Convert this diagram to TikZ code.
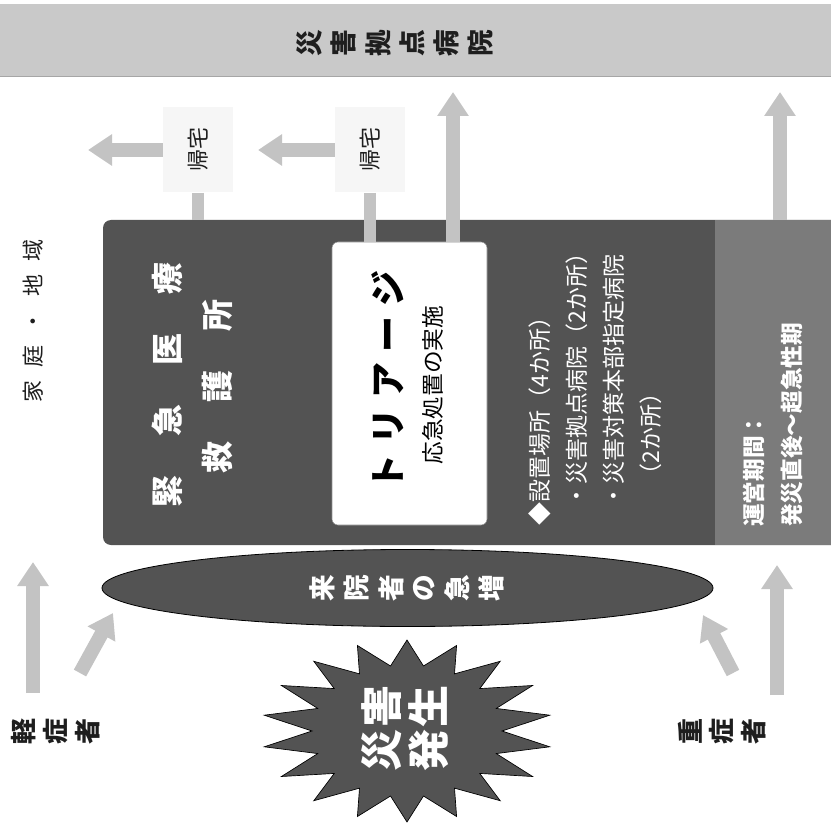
\documentclass[tikz,border=0pt]{standalone}
\usepackage{fontspec}
\setmainfont{Noto Sans CJK JP}
\usepackage{graphicx}
\usetikzlibrary{arrows.meta,shapes.geometric}
\newdimen\pxu \pxu=0.75pt
\newlength\lsg
\def\lsloop#1{\ifx#1\relax\else#1\hskip\lsg\expandafter\lsloop\fi}
\def\rsloop#1{\ifx#1\relax\else\rotatebox{90}{#1}\hskip\lsg\expandafter\rsloop\fi}
\newcommand\spaced[2]{\setlength\lsg{#1}\lsloop#2\relax\unskip}
\newcommand\rspaced[2]{\setlength\lsg{#1}\rsloop#2\relax\unskip}
\definecolor{bandc}{HTML}{C9C9C9}
\definecolor{dk}{HTML}{535353}
\definecolor{midc}{HTML}{7B7B7B}
\definecolor{arr}{HTML}{C3C3C3}
\definecolor{ink}{HTML}{1E1E1E}
\definecolor{pale}{HTML}{F6F6F6}
\begin{document}
\begin{tikzpicture}[x=0.75pt,y=-0.75pt,
  bigarrow/.style={draw=arr, line width=10.5pt, -{Triangle[width=22.5pt,length=18pt]}},
  stub/.style={draw=arr, line width=9pt},
  kbox/.style={rotate=90, fill=pale, minimum width=85\pxu, minimum height=70\pxu, inner sep=0,
     font=\fontsize{16.5pt}{20pt}\selectfont, text=ink},
  rtext/.style={rotate=90, inner sep=0},
  burst/.style={rtext, text=white, font=\bfseries\fontsize{31.5pt}{36pt}\selectfont}
]
\useasboundingbox (0,0) rectangle (831,823);
\fill[white] (0,0) rectangle (831,823);

% top band
\node[fill=bandc, minimum width=831\pxu, minimum height=72\pxu, inner sep=0] (hosp) at (415.5,40) {};
\draw[black!35, line width=1pt] (hosp.south west) -- (hosp.south east);
\node[inner sep=0, text=ink, font=\bfseries\fontsize{20pt}{24pt}\selectfont] (hosptext) at (395,43) {\rspaced{6.75pt}{災害拠点病院}};

% main dark box
\fill[dk, rounded corners=8\pxu] (831,220) -- (103,220) -- (103,545) -- (831,545);
\fill[midc] (715,220) rectangle (831,545);
\coordinate (boxtopL) at (198,220);
\coordinate (boxtopR) at (780,220);

% triage box
\node[fill=white, draw=black!45, rounded corners=6\pxu, minimum width=155\pxu, minimum height=283\pxu, inner sep=0] (triage) at (409.5,383.5) {};
\node[rtext, text=black, font=\bfseries\fontsize{27pt}{30pt}\selectfont] (tri) at (388,380) {\spaced{7.5pt}{トリアージ}};
\node[rtext, text=black, font=\fontsize{17pt}{20pt}\selectfont] (tri2) at (433,385) {応急処置の実施};

% title of the box
\node[rtext, text=white, font=\bfseries\fontsize{24pt}{28pt}\selectfont] (kin1) at (167,384.5) {\spaced{29.25pt}{緊急医療}};
\node[rtext, text=white, font=\bfseries\fontsize{24pt}{28pt}\selectfont] (kin2) at (217,386.5) {\spaced{29.25pt}{救護所}};

% site list
\node[rotate=90, anchor=north west, align=left, text=white, inner sep=0,
  font=\fontsize{17.25pt}{27.75pt}\selectfont] (site) at (528,526)
  {◆設置場所（4か所）\\\hspace*{0.8em}・災害拠点病院（2か所）\\\hspace*{0.8em}・災害対策本部指定病院\\\hspace*{1.7em}（2か所）};

% period
\node[rotate=90, anchor=north west, align=left, text=white, inner sep=0,
  font=\bfseries\fontsize{17pt}{28.5pt}\selectfont] (period) at (743,527)
  {運営期間：\\発災直後～超急性期};

% go-home boxes
\node[kbox] (k1) at (198,150) {帰宅};
\node[kbox] (k2) at (370,150) {帰宅};
\coordinate (k1tip) at (88,150);
\coordinate (k2tip) at (258,150);
\draw[bigarrow] (k1.north) -- (k1tip);
\draw[bigarrow] (k2.north) -- (k2tip);
\draw[stub] (k1.west) -- (boxtopL);
\draw[stub] (k2.west) -- (k2.west |- triage.north);

% arrows to hospitals
\coordinate (trout) at (453,242);
\coordinate (tip1) at (453,92);
\coordinate (tip2) at (780,92);
\draw[bigarrow] (trout) -- (tip1);
\draw[bigarrow] (boxtopR) -- (tip2);

% left text
\node[rtext, text=ink, font=\fontsize{16.5pt}{20pt}\selectfont] (home) at (33,321) {\spaced{10pt}{家庭・地域}};

% ellipse
\node[ellipse, fill=dk, draw=black, line width=0.6pt, minimum width=611\pxu, minimum height=77\pxu, inner sep=0] (surge) at (407.5,588) {};
\node[inner sep=0, text=white, font=\bfseries\fontsize{20pt}{24pt}\selectfont] (surgetext) at (407,588) {\rspaced{7pt}{来院者の急増}};

% bottom arrows
\coordinate (la1) at (33,693); \coordinate (la1t) at (33,562);
\coordinate (la2) at (80,673); \coordinate (la2t) at (113,613);
\coordinate (ra2) at (733,673); \coordinate (ra2t) at (703,615);
\coordinate (ra1) at (777,695); \coordinate (ra1t) at (777,565);
\draw[bigarrow] (la1) -- (la1t);
\draw[bigarrow] (la2) -- (la2t);
\draw[bigarrow] (ra2) -- (ra2t);
\draw[bigarrow] (ra1) -- (ra1t);

\node[inner sep=0, text=ink, font=\bfseries\fontsize{19.5pt}{24pt}\selectfont] (light) at (56,731) {\rspaced{5.5pt}{軽症者}};
\node[inner sep=0, text=ink, font=\bfseries\fontsize{19.5pt}{24pt}\selectfont] (severe) at (722,731) {\rspaced{5.5pt}{重症者}};

% burst
\fill[dk, draw=black, line width=0.5pt] plot[domain=0:36, samples=37, variable=\t]
  ({407+ifthenelse(mod(round(\t),2)==0,145,95)*cos(90+10*\t)},
   {731-ifthenelse(mod(round(\t),2)==0,91,66)*sin(90+10*\t)}) -- cycle;
\node[burst] (disaster1) at (382,728.5) {\spaced{2pt}{災害}};
\node[burst] (disaster2) at (429,728.5) {\spaced{2pt}{発生}};
\end{tikzpicture}
\end{document}
